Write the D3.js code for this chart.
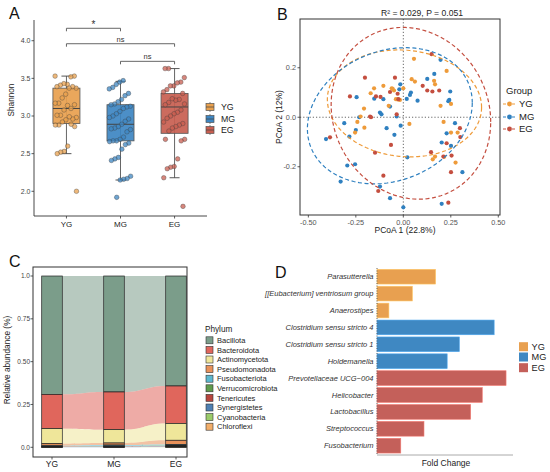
<!DOCTYPE html>
<html><head><meta charset="utf-8">
<script src="https://cdn.jsdelivr.net/npm/d3@7"></script>
<style>body{margin:0;background:#fff}svg{display:block;font-family:"Liberation Sans",Arial,Helvetica,sans-serif}</style>
</head><body><svg id="c" width="550" height="472"></svg>
<script>
// ---------------- DATA ----------------
const groups = ["YG", "MG", "EG"];
const groupColors = ["#E8A04E", "#3D86C2", "#C85E50"];
const pointColors = ["#EE9B3A", "#2F80C0", "#C44E3F"];

// Panel A: Shannon index per sample
const shannonYG = [3.53,3.53,3.52,3.42,3.43,3.41,3.39,3.37,3.39,3.37,3.29,3.24,3.17,3.17,3.15,3.10,3.14,3.08,3.01,3.01,2.98,2.96,2.99,2.95,2.92,2.88,2.88,2.86,2.89,2.60,2.53,2.52,2.50,2.00];
const shannonMG = [3.47,3.45,3.42,3.38,3.36,3.30,3.27,3.22,3.19,3.16,3.15,3.13,3.12,3.10,3.06,3.03,3.00,2.98,2.96,2.93,2.89,2.86,2.84,2.83,2.82,2.79,2.72,2.69,2.67,2.67,2.66,2.64,2.62,2.56,2.45,2.43,2.41,2.20,2.17,2.16,2.15,1.92];
const shannonEG = [3.63,3.63,3.51,3.45,3.44,3.40,3.40,3.35,3.32,3.30,3.22,3.21,3.23,3.18,3.15,3.16,3.08,3.05,3.03,3.00,2.97,2.92,2.90,2.88,2.86,2.84,2.80,2.69,2.69,2.67,2.43,2.33,2.32,2.30,2.18,1.80];
const boxQ1 = [2.90, 2.67, 2.77];
const boxMedian = [3.10, 2.89, 3.12];
const boxQ3 = [3.37, 3.15, 3.30];
const whiskerLow = [2.50, 2.15, 2.18];
const whiskerHigh = [3.53, 3.46, 3.63];
const shannonTicks = [2.0, 2.5, 3.0, 3.5, 4.0];
const sigPairs = [["YG","MG"], ["YG","EG"], ["MG","EG"]];
const sigLabels = ["*", "ns", "ns"];
const sigHeights = [4.165, 3.96, 3.726];

// Panel B: PCoA coordinates [PCoA1, PCoA2]
const pcoaYG = [[0.056,0.236],[0.228,0.187],[0.044,0.154],[0.061,0.144],[0.162,0.147],[0.167,0.133],[-0.172,0.097],[-0.154,0.117],[-0.105,0.127],[-0.061,0.117],[-0.049,0.108],[0.0,0.117],[-0.039,0.073],[-0.018,0.070],[-0.077,0.046],[-0.207,0.035],[-0.225,0.003],[-0.242,-0.019],[-0.205,-0.042],[-0.254,-0.062],[0.032,-0.027],[0.196,0.046],[0.251,0.054],[0.212,-0.019],[0.251,-0.062],[0.286,-0.062],[0.167,-0.159],[0.155,-0.170],[0.275,-0.183],[-0.056,0.115],[-0.030,0.072],[0.215,-0.160]];
const pcoaMG = [[0.196,0.232],[0.163,0.175],[0.126,0.155],[0.247,0.104],[0.242,0.070],[0.272,-0.024],[0.228,-0.065],[0.202,-0.102],[0.251,-0.116],[0.311,-0.222],[0.202,-0.350],[0.021,-0.162],[0.0,-0.364],[-0.070,-0.327],[-0.123,-0.280],[-0.254,-0.190],[-0.295,-0.195],[-0.330,-0.260],[-0.407,-0.088],[-0.311,-0.024],[-0.284,-0.078],[-0.246,0.081],[-0.232,0.0],[-0.088,-0.044],[-0.047,-0.071],[-0.035,0.003],[-0.123,0.019],[-0.115,0.012],[-0.105,0.073],[-0.070,0.043],[-0.021,0.113],[0.035,0.090],[0.075,0.067],[0.018,0.074],[-0.153,0.075],[-0.250,-0.052],[0.040,0.100],[0.237,0.065],[-0.014,-0.034],[-0.016,0.133]];
const pcoaEG = [[-0.044,0.160],[-0.202,0.160],[-0.281,0.084],[-0.144,0.084],[-0.120,0.082],[-0.070,0.102],[-0.026,0.073],[-0.030,0.095],[0.102,0.127],[0.126,0.108],[0.153,0.104],[0.189,0.108],[0.149,0.255],[-0.175,0.003],[-0.386,-0.081],[-0.065,-0.112],[-0.149,-0.143],[0.146,-0.141],[0.211,-0.159],[0.254,-0.155],[0.298,-0.044],[0.300,-0.080],[0.251,-0.222],[-0.105,-0.236],[-0.132,-0.298],[0.237,-0.345],[-0.035,0.012],[0.228,-0.105],[-0.170,0.0]];
// ellipse [centerX, centerY, halfWidth, halfHeight, correlation]
const ellipseYG = [0.006, 0.056, 0.406, 0.216, -0.075];
const ellipseMG = [-0.071, 0.006, 0.434, 0.275, 0.19];
const ellipseEG = [0.040, 0.016, 0.420, 0.347, -0.10];
const pcoaXTicks = [-0.5, -0.25, 0, 0.25, 0.5];
const pcoaXLabels = ["-0.50", "-0.25", "0.00", "0.25", "0.50"];
const pcoaYTicks = [-0.2, 0, 0.2];
const pcoaYLabels = ["-0.2", "0.0", "0.2"];

// Panel C: phylum relative abundance
const phyla = ["Bacillota","Bacteroidota","Actinomycetota","Pseudomonadota","Fusobacteriota","Verrucomicrobiota","Tenericutes","Synergistetes","Cyanobacteria","Chloroflexi"];
const phylumColors = ["#7B9D8A","#E0665C","#EFE69A","#E8915A","#5CB8CF","#5F9B4C","#B8453D","#4F80B3","#9BCB6A","#F2AE6A"];
const abundYG = [0.691,0.200,0.088,0.012,0.003,0.002,0.002,0.001,0.0005,0.0005];
const abundMG = [0.677,0.220,0.078,0.012,0.006,0.002,0.002,0.002,0.0005,0.0005];
const abundEG = [0.642,0.219,0.098,0.025,0.006,0.003,0.003,0.002,0.001,0.001];
const abundTicks = [0, 0.25, 0.5, 0.75, 1.0];
const abundLabels = ["0.0", "0.25", "0.50", "0.75", "1.0"];

// Panel D: enriched genera
const genera = ["Parasutterella","[[Eubacterium] ventriosum group","Anaerostipes","Clostridium sensu stricto 4","Clostridium sensu stricto 1","Holdemanella","Prevotellaceae UCG\u2212004","Helicobacter","Lactobacillus","Streptococcus","Fusobacterium"];
const foldChange = [2.02, 1.22, 0.41, 4.04, 2.84, 2.42, 4.45, 3.63, 3.23, 1.62, 0.82];
const enrichedIn = ["YG","YG","YG","MG","MG","MG","EG","EG","EG","EG","EG"];
const barColorsD = ["#E8A050", "#3F88C2", "#C4605A"];

// ---------------- DRAW ----------------
const svg = d3.select("#c");
svg.append("rect").attr("width",550).attr("height",472).attr("fill","#fff");
const axisCol = "#333";
const jit = i => ((i * 0.6180339887) % 1) - 0.5;

function panelLabel(t, x, y) {
  svg.append("text").attr("x", x).attr("y", y).attr("font-size", 16).attr("fill", "#111").text(t);
}

// ===== Panel A =====
(function(){
  const g = svg.append("g");
  const x = d3.scalePoint().domain(groups).range([34, 207]).padding(0.6);
  const y = d3.scaleLinear().domain([1.672, 4.275]).range([216, 20]);
  const step = x.step();
  const data = [shannonYG, shannonMG, shannonEG];
  // axes
  g.append("line").attr("x1",34).attr("x2",34).attr("y1",20).attr("y2",216).attr("stroke",axisCol).attr("stroke-width",0.9);
  g.append("line").attr("x1",34).attr("x2",207).attr("y1",216).attr("y2",216).attr("stroke",axisCol).attr("stroke-width",0.9);
  shannonTicks.forEach(t => {
    g.append("line").attr("x1",31.5).attr("x2",34).attr("y1",y(t)).attr("y2",y(t)).attr("stroke",axisCol).attr("stroke-width",0.8);
    g.append("text").attr("x",30.5).attr("y",y(t)+2.4).attr("text-anchor","end").attr("font-size",7).attr("fill","#444").text(d3.format(".1f")(t));
  });
  groups.forEach(gr => {
    g.append("line").attr("x1",x(gr)).attr("x2",x(gr)).attr("y1",216).attr("y2",218.5).attr("stroke",axisCol).attr("stroke-width",0.8);
    g.append("text").attr("x",x(gr)).attr("y",226.5).attr("text-anchor","middle").attr("font-size",8).attr("fill","#222").text(gr);
  });
  g.append("text").attr("transform","translate(14,100) rotate(-90)").attr("text-anchor","middle").attr("font-size",8.2).attr("fill","#222").text("Shannon");

  const bw = step * 0.5;
  groups.forEach((gr, i) => {
    const cx = x(gr);
    g.append("line").attr("x1",cx).attr("x2",cx).attr("y1",y(whiskerHigh[i])).attr("y2",y(whiskerLow[i])).attr("stroke","#666").attr("stroke-width",1);
    [whiskerHigh[i], whiskerLow[i]].forEach(v => {
      g.append("line").attr("x1",cx-5).attr("x2",cx+5).attr("y1",y(v)).attr("y2",y(v)).attr("stroke","#444").attr("stroke-width",0.9);
    });
    g.append("rect").attr("x",cx-bw/2).attr("width",bw).attr("y",y(boxQ3[i])).attr("height",y(boxQ1[i])-y(boxQ3[i]))
      .attr("fill",groupColors[i]).attr("fill-opacity",0.92).attr("stroke","#555").attr("stroke-width",0.8);
    g.append("line").attr("x1",cx-bw/2).attr("x2",cx+bw/2).attr("y1",y(boxMedian[i])).attr("y2",y(boxMedian[i])).attr("stroke","#444").attr("stroke-width",1);
  });
  groups.forEach((gr, i) => {
    const cx = x(gr);
    g.selectAll(null).data(data[i]).enter().append("circle")
      .attr("cx",(d,j) => cx + jit(j*1.37+i) * step * 0.42)
      .attr("cy", d => y(d)).attr("r",2.3)
      .attr("fill",groupColors[i]).attr("fill-opacity",0.75)
      .attr("stroke","#3a3a3a").attr("stroke-opacity",0.6).attr("stroke-width",0.6);
  });
  // significance
  sigPairs.forEach((p, i) => {
    const x1 = x(p[0]), x2 = x(p[1]), yy = y(sigHeights[i]);
    g.append("path").attr("d",`M${x1},${yy+3}V${yy}H${x2}V${yy+3}`).attr("fill","none").attr("stroke","#555").attr("stroke-width",0.9);
    g.append("text").attr("x",(x1+x2)/2).attr("y", sigLabels[i]==="*" ? yy-0.5 : yy-2).attr("text-anchor","middle")
      .attr("font-size", sigLabels[i]==="*" ? 10 : 7.5).attr("fill","#333").text(sigLabels[i]);
  });
  // legend
  groups.forEach((gr, i) => {
    const ly = [107, 119, 130][i];
    g.append("line").attr("x1",210).attr("x2",210).attr("y1",ly-5).attr("y2",ly+5).attr("stroke","#555").attr("stroke-width",0.7);
    g.append("rect").attr("x",206).attr("y",ly-3.5).attr("width",8).attr("height",7).attr("fill",groupColors[i]).attr("stroke","#555").attr("stroke-width",0.7);
    g.append("line").attr("x1",206).attr("x2",214).attr("y1",ly).attr("y2",ly).attr("stroke","#444").attr("stroke-width",0.7);
    g.append("text").attr("x",221).attr("y",ly+3).attr("font-size",8.8).attr("fill","#222").text(gr);
  });
  panelLabel("A", 9, 19);
})();

// ===== Panel B =====
(function(){
  const g = svg.append("g");
  const x = d3.scaleLinear().domain([-0.544, 0.509]).range([300, 500]);
  const y = d3.scaleLinear().domain([-0.395, 0.397]).range([215, 19]);
  g.append("line").attr("x1",300).attr("x2",500).attr("y1",y(0)).attr("y2",y(0)).attr("stroke","#555").attr("stroke-width",0.9).attr("stroke-dasharray","1.2,2");
  g.append("line").attr("x1",x(0)).attr("x2",x(0)).attr("y1",19).attr("y2",215).attr("stroke","#555").attr("stroke-width",0.9).attr("stroke-dasharray","1.2,2");
  const pts = [pcoaYG, pcoaMG, pcoaEG];
  const ells = [ellipseYG, ellipseMG, ellipseEG];
  // points
  [1,0,2].forEach(i => {
    g.selectAll(null).data(pts[i]).enter().append("circle")
      .attr("cx", d => x(d[0])).attr("cy", d => y(d[1])).attr("r", 2.1)
      .attr("fill", pointColors[i]);
  });
  // ellipses
  ells.forEach((e, i) => {
    const [cx, cy, hw, hh, r] = e;
    const line = d3.line().x(t => x(cx + hw*Math.cos(t))).y(t => y(cy + hh*(r*Math.cos(t) + Math.sqrt(1-r*r)*Math.sin(t))));
    const ts = d3.range(0, 2*Math.PI + 0.001, Math.PI/90);
    g.append("path").attr("d", line(ts)).attr("fill","none").attr("stroke", pointColors[i]).attr("stroke-width",1.2).attr("stroke-dasharray","4,2.6");
  });
  g.append("rect").attr("x",300).attr("y",19).attr("width",200).attr("height",196).attr("fill","none").attr("stroke","#333").attr("stroke-width",1);
  pcoaXTicks.forEach((t, i) => {
    g.append("line").attr("x1",x(t)).attr("x2",x(t)).attr("y1",215).attr("y2",217.5).attr("stroke",axisCol).attr("stroke-width",0.8);
    g.append("text").attr("x",x(t)).attr("y",224.5).attr("text-anchor","middle").attr("font-size",7.3).attr("fill","#555").text(pcoaXLabels[i]);
  });
  pcoaYTicks.forEach((t, i) => {
    g.append("line").attr("x1",297.5).attr("x2",300).attr("y1",y(t)).attr("y2",y(t)).attr("stroke",axisCol).attr("stroke-width",0.8);
    g.append("text").attr("x",296).attr("y",y(t)+2.5).attr("text-anchor","end").attr("font-size",7.3).attr("fill","#555").text(pcoaYLabels[i]);
  });
  g.append("text").attr("x",405).attr("y",233).attr("text-anchor","middle").attr("font-size",8.5).attr("fill","#222").text("PCoA 1 (22.8%)");
  g.append("text").attr("transform","translate(282,117) rotate(-90)").attr("text-anchor","middle").attr("font-size",8.5).attr("fill","#222").text("PCoA 2 (12%)");
  g.append("text").attr("x",422).attr("y",16).attr("text-anchor","middle").attr("font-size",8.6).attr("fill","#222").text("R\u00B2 = 0.029, P = 0.051");
  // legend
  g.append("text").attr("x",506).attr("y",94).attr("font-size",9.5).attr("fill","#222").text("Group");
  groups.forEach((gr, i) => {
    const ly = [104, 117, 129][i];
    g.append("line").attr("x1",503).attr("x2",516).attr("y1",ly).attr("y2",ly).attr("stroke",pointColors[i]).attr("stroke-width",1.1).attr("stroke-dasharray","3,1.5");
    g.append("circle").attr("cx",509.5).attr("cy",ly).attr("r",2.4).attr("fill",pointColors[i]);
    g.append("text").attr("x",519).attr("y",ly+3.4).attr("font-size",9.5).attr("fill","#222").text(gr);
  });
  panelLabel("B", 277, 20);
})();

// ===== Panel C =====
(function(){
  const g = svg.append("g");
  const x = d3.scalePoint().domain(groups).range([52, 176]);
  const y = d3.scaleLinear().domain([0, 1]).range([447.3, 276]);
  const bw = 20.6;
  const abund = [abundYG, abundMG, abundEG];
  // stack: last phylum at bottom, first on top
  const stacks = abund.map(a => {
    const out = new Array(a.length);
    let acc = 0;
    for (let k = a.length - 1; k >= 0; k--) { out[k] = [acc, acc + a[k]]; acc += a[k]; }
    return out;
  });
  // flows
  for (let gi = 0; gi < groups.length - 1; gi++) {
    const x0 = x(groups[gi]) + bw/2, x1 = x(groups[gi+1]) - bw/2, xm = (x0 + x1)/2;
    phyla.forEach((p, k) => {
      const a = stacks[gi][k], b = stacks[gi+1][k];
      const d = `M${x0},${y(a[1])}C${xm},${y(a[1])} ${xm},${y(b[1])} ${x1},${y(b[1])}` +
                `L${x1},${y(b[0])}C${xm},${y(b[0])} ${xm},${y(a[0])} ${x0},${y(a[0])}Z`;
      g.append("path").attr("d", d).attr("fill", phylumColors[k]).attr("fill-opacity", 0.55);
    });
  }
  // bars
  groups.forEach((gr, gi) => {
    phyla.forEach((p, k) => {
      const s = stacks[gi][k];
      g.append("rect").attr("x", x(gr) - bw/2).attr("width", bw).attr("y", y(s[1])).attr("height", Math.max(0, y(s[0]) - y(s[1])))
        .attr("fill", phylumColors[k]).attr("stroke", "#222").attr("stroke-width", 0.7);
    });
  });
  g.append("rect").attr("x",33).attr("y",267).attr("width",154).attr("height",190).attr("fill","none").attr("stroke","#333").attr("stroke-width",1);
  abundTicks.forEach((t, i) => {
    g.append("line").attr("x1",30.5).attr("x2",33).attr("y1",y(t)).attr("y2",y(t)).attr("stroke",axisCol).attr("stroke-width",0.8);
    g.append("text").attr("x",30).attr("y",y(t)+2.3).attr("text-anchor","end").attr("font-size",6.5).attr("fill","#444").text(abundLabels[i]);
  });
  groups.forEach(gr => {
    g.append("line").attr("x1",x(gr)).attr("x2",x(gr)).attr("y1",457).attr("y2",459.5).attr("stroke",axisCol).attr("stroke-width",0.8);
    g.append("text").attr("x",x(gr)).attr("y",467).attr("text-anchor","middle").attr("font-size",8.5).attr("fill","#222").text(gr);
  });
  g.append("text").attr("transform","translate(10,360) rotate(-90)").attr("text-anchor","middle").attr("font-size",8.3).attr("fill","#222").text("Relative abundance (%)");
  // legend
  g.append("text").attr("x",205).attr("y",332).attr("font-size",8.2).attr("fill","#222").text("Phylum");
  phyla.forEach((p, k) => {
    const ly = 340.3 + k * 9.6;
    g.append("rect").attr("x",206).attr("y",ly-3.5).attr("width",7).attr("height",7).attr("fill",phylumColors[k]).attr("stroke","#333").attr("stroke-width",0.6);
    g.append("text").attr("x",217).attr("y",ly+2.6).attr("font-size",7.5).attr("fill","#222").text(p);
  });
  panelLabel("C", 9, 267);
})();

// ===== Panel D =====
(function(){
  const g = svg.append("g");
  const x = d3.scaleLinear().domain([0, 4.69]).range([377, 513]);
  const y = d3.scaleBand().domain(genera).range([268.2, 454.2]).paddingInner(0.13).paddingOuter(0.068);
  genera.forEach((gn, i) => {
    const ci = groups.indexOf(enrichedIn[i]);
    g.append("rect").attr("x", x(0)).attr("y", y(gn)).attr("width", x(foldChange[i]) - x(0)).attr("height", y.bandwidth())
      .attr("fill", barColorsD[ci]).attr("stroke", d3.color(barColorsD[ci]).brighter(0.6)).attr("stroke-width", 0.6);
    g.append("text").attr("x", 373.5).attr("y", y(gn) + y.bandwidth()/2 + 2.6).attr("text-anchor","end")
      .attr("font-size", 7.5).attr("font-style","italic").attr("fill","#333").text(gn);
  });
  g.append("line").attr("x1",377).attr("x2",377).attr("y1",268).attr("y2",455).attr("stroke","#555").attr("stroke-width",0.9).attr("stroke-dasharray","1,1.5");
  g.append("line").attr("x1",377).attr("x2",513).attr("y1",455).attr("y2",455).attr("stroke","#aaa").attr("stroke-width",1);
  g.append("text").attr("x",446).attr("y",466).attr("text-anchor","middle").attr("font-size",8.5).attr("fill","#222").text("Fold Change");
  groups.forEach((gr, i) => {
    const ly = [346.7, 357, 367.7][i];
    g.append("rect").attr("x",519).attr("y",ly-4.5).attr("width",9).attr("height",9).attr("fill",barColorsD[i]);
    g.append("text").attr("x",531.5).attr("y",ly+3.3).attr("font-size",9.2).attr("fill","#222").text(gr);
  });
  panelLabel("D", 275, 278);
})();
</script>
</body></html>
